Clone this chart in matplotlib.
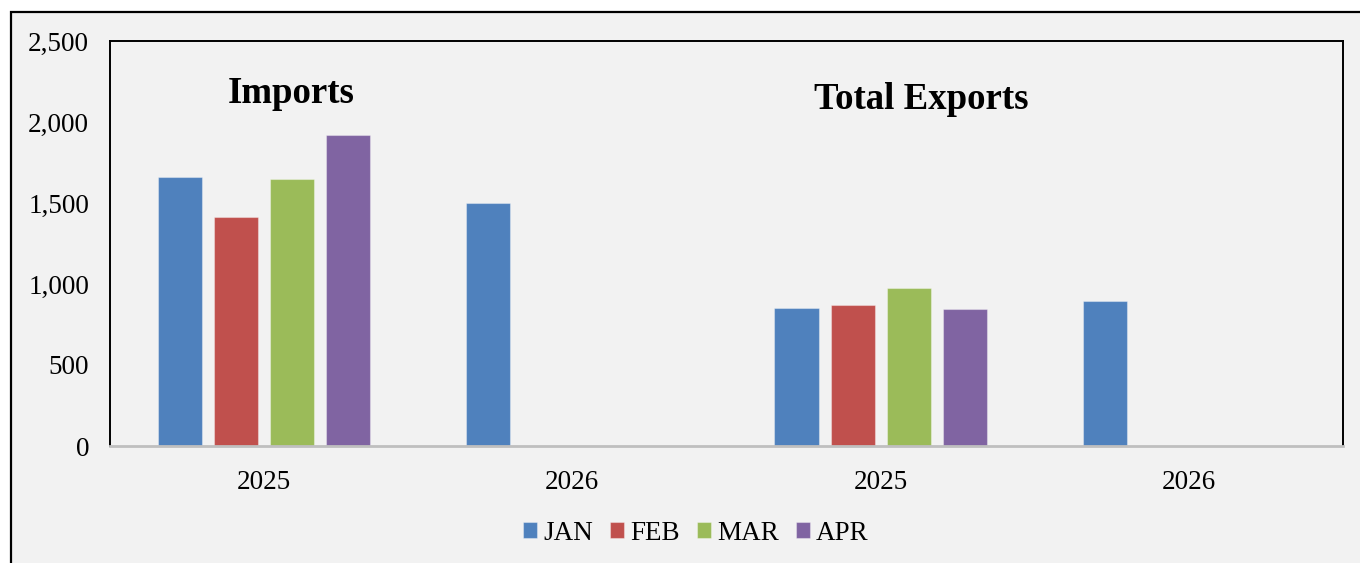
import numpy as np
import matplotlib
matplotlib.use("Agg")
import matplotlib.pyplot as plt
from matplotlib.patches import Rectangle

# ---- data ----
categories = ["2025", "2026", "2025", "2026"]
months = ["JAN", "FEB", "MAR", "APR"]
jan = [1660, 1500, 852, 895]
feb = [1414, np.nan, 870, np.nan]
mar = [1648, np.nan, 975, np.nan]
apr = [1920, np.nan, 846, np.nan]
series = [jan, feb, mar, apr]
colors = ["#4f81bd", "#c0504d", "#9bbb59", "#8064a2"]
yticks = [0, 500, 1000, 1500, 2000, 2500]

plt.rcParams["font.family"] = ["Liberation Serif", "DejaVu Serif"]
BG = "#f2f2f2"

fig = plt.figure(figsize=(13.6, 5.63), dpi=100)
fig.patch.set_facecolor("white")
# outer chart frame, drawn under the axes
fig.patches.append(Rectangle((11 / 1360, -0.05), 1.1, 1 - 12 / 563 + 0.05,
                             transform=fig.transFigure, facecolor=BG,
                             edgecolor="black", linewidth=1.6, zorder=-10))

ax = fig.add_axes([110 / 1360, 1 - 446 / 563, (1343 - 110) / 1360, (446 - 41) / 563])
ax.set_facecolor(BG)

x = np.arange(len(categories))
step, width = 0.182, 0.143
for i, (vals, c, m) in enumerate(zip(series, colors, months)):
    ax.bar(x + (i - 1.5) * step, vals, width=width, color=c, label=m,
           edgecolor=(1, 1, 1, 0.35), linewidth=0.8, zorder=2)

ax.set_xlim(-0.5, 3.5)
ax.set_ylim(0, 2500)
ax.set_yticks(yticks)
ax.set_yticklabels([f"{v:,}" for v in yticks], fontsize=19.5)
ax.set_xticks(x)
ax.set_xticklabels(categories, fontsize=19.5)
ax.tick_params(axis="y", length=0, pad=15)
ax.tick_params(axis="x", length=0, pad=17)

for s in ["left", "top", "right"]:
    ax.spines[s].set_color("black")
    ax.spines[s].set_linewidth(1.4)
ax.spines["bottom"].set_color("#bfbfbf")
ax.spines["bottom"].set_linewidth(2)

ax.text(0.087, 2175, "Imports", ha="center", va="center",
        fontsize=26.5, fontweight="bold")
ax.text(2.131, 2140, "Total Exports", ha="center", va="center",
        fontsize=26.5, fontweight="bold")

leg = fig.legend(loc="center", bbox_to_anchor=(696 / 1360, 1 - 533 / 563),
                 ncol=4, frameon=False, fontsize=19.5, handlelength=0.52,
                 handleheight=0.52, handletextpad=0.23, columnspacing=0.62)

fig.savefig("out.png", dpi=100, facecolor=fig.get_facecolor())
